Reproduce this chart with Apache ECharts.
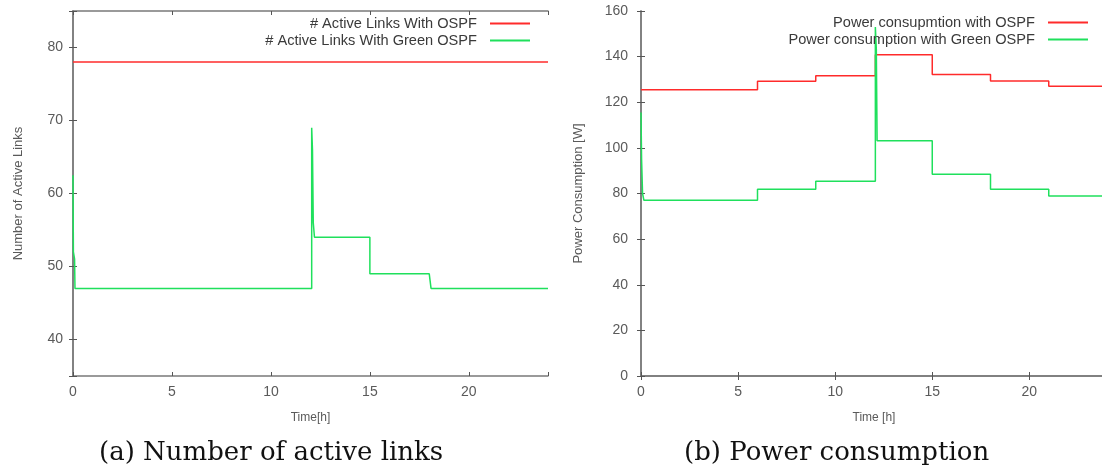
<!DOCTYPE html>
<html>
<head>
<meta charset="utf-8">
<script src="https://cdn.jsdelivr.net/npm/echarts@6.0.0/dist/echarts.min.js"></script>
<style>
  html, body { margin: 0; padding: 0; background: #fff; }
  #chart { width: 1102px; height: 470px; }
</style>
</head>
<body>
<div id="chart"></div>
<script>
// (a) number of active links over the day
const linksOspfHours = [0, 24]
const linksOspf = [78, 78]
const linksGreenHours = [0, 0.02, 0.08, 0.1, 12.06, 12.06, 12.1, 12.14, 12.2, 15.0, 15.0, 18.0, 18.09, 24]
const linksGreen = [62.5, 52, 51, 47, 47, 69, 66, 56, 54, 54, 49, 49, 47, 47]

// (b) power consumption [W]
const powerOspfHours = [0, 6, 6, 9, 9, 12.07, 12.07, 15, 15, 18, 18, 21, 21, 24]
const powerOspf = [125.5, 125.5, 129.2, 129.2, 131.6, 131.6, 140.8, 140.8, 132.2, 132.2, 129.3, 129.3, 127, 127]
const powerGreenHours = [0, 0.03, 0.08, 0.15, 6, 6, 9, 9, 12.07, 12.07, 12.12, 12.16, 15, 15, 18, 18, 21, 21, 24]
const powerGreen = [115.5, 95, 80, 77, 77, 81.9, 81.9, 85.4, 85.4, 153, 143, 103.1, 103.1, 88.4, 88.4, 81.9, 81.9, 78.9, 78.9]

// tick labels
const hourTicks = [0, 5, 10, 15, 20]
const linkTicks = [40, 50, 60, 70, 80]
const powerTicks = [0, 20, 40, 60, 80, 100, 120, 140, 160]

const RED = '#ff2b2b'
const GREEN = '#1fe05c'
const FRAME = '#7a7a7a'
const LABEL = '#5a5a5a'

const pairs = (xs, ys) => xs.map((x, i) => [x, ys[i]])
const onlyTicks = list => v => (list.includes(v) ? `${v}` : '')

// gnuplot style box: every axis gets a mirrored twin without labels
function axisPair (opts, sides, ticks, margin) {
  const base = {
    type: 'value',
    splitLine: { show: false },
    axisLine: { lineStyle: { color: FRAME, width: 1.5 } },
    axisTick: { inside: true, length: 4, lineStyle: { color: '#555' } },
    ...opts
  }
  return [
    {
      ...base,
      position: sides[0],
      axisLabel: { color: LABEL, fontSize: 14, fontFamily: 'Liberation Sans', margin, formatter: onlyTicks(ticks) }
    },
    { ...base, position: sides[1], name: '', axisLabel: { show: false } }
  ]
}

const nameStyle = { color: LABEL, fontSize: 12, fontFamily: 'Liberation Sans Narrow, Liberation Sans' }
const yNameStyle = { ...nameStyle, fontSize: 13 }

const xAxis = [
  ...axisPair({ gridIndex: 0, min: 0, max: 24, interval: 5, name: 'Time[h]', nameLocation: 'middle', nameGap: 36, nameTextStyle: nameStyle }, ['bottom', 'top'], hourTicks, 9),
  ...axisPair({ gridIndex: 1, min: 0, max: 24, interval: 5, name: 'Time [h]', nameLocation: 'middle', nameGap: 36, nameTextStyle: nameStyle }, ['bottom', 'top'], hourTicks, 9)
]
const yAxis = [
  ...axisPair({ gridIndex: 0, min: 35, max: 85, splitNumber: 5, name: 'Number of Active Links', nameLocation: 'middle', nameGap: 48, nameTextStyle: yNameStyle }, ['left', 'right'], linkTicks, 10),
  ...axisPair({ gridIndex: 1, min: 0, max: 160, interval: 20, name: 'Power Consumption [W]', nameLocation: 'middle', nameGap: 56, nameTextStyle: yNameStyle }, ['left', 'right'], powerTicks, 13)
]

function lineSeries (name, data, color, axis) {
  return {
    name,
    type: 'line',
    data,
    xAxisIndex: axis,
    yAxisIndex: axis,
    showSymbol: false,
    symbol: 'none',
    lineStyle: { color, width: 1.5 },
    itemStyle: { color },
    animation: false
  }
}

function legendItem (name, right, top) {
  return {
    data: [name],
    right,
    top,
    orient: 'vertical',
    align: 'right',
    icon: 'rect',
    itemWidth: 40,
    itemHeight: 2,
    padding: 0,
    selectedMode: false,
    textStyle: { color: '#3a3a3a', fontSize: 14.6, fontFamily: 'Liberation Sans', padding: [0, 8, 0, 0] }
  }
}

const captionStyle = { color: '#111', fontSize: 26, fontWeight: 'normal', fontFamily: 'DejaVu Serif' }

const option = {
  backgroundColor: '#fff',
  animation: false,
  title: [
    { text: '(a) Number of active links', left: 99, top: 440, padding: 0, textStyle: captionStyle },
    { text: '(b) Power consumption', left: 684, top: 440, padding: 0, textStyle: captionStyle }
  ],
  legend: [
    legendItem('# Active Links With OSPF', 572, 16),
    legendItem('# Active Links With Green OSPF', 572, 33),
    legendItem('Power consupmtion with OSPF', 14, 15),
    legendItem('Power consumption with Green OSPF', 14, 32)
  ],
  grid: [
    // the right panel runs past the page edge in the original, so no clamping
    { left: 73, right: 554, top: 11, bottom: 94, outerBoundsMode: 'none' },
    { left: 641, width: 466, top: 11, bottom: 94, outerBoundsMode: 'none' }
  ],
  xAxis,
  yAxis,
  series: [
    lineSeries('# Active Links With OSPF', pairs(linksOspfHours, linksOspf), RED, 0),
    lineSeries('# Active Links With Green OSPF', pairs(linksGreenHours, linksGreen), GREEN, 0),
    lineSeries('Power consupmtion with OSPF', pairs(powerOspfHours, powerOspf), RED, 2),
    lineSeries('Power consumption with Green OSPF', pairs(powerGreenHours, powerGreen), GREEN, 2)
  ]
}

const chart = echarts.init(document.getElementById('chart'))
chart.setOption(option)
</script>
</body>
</html>
